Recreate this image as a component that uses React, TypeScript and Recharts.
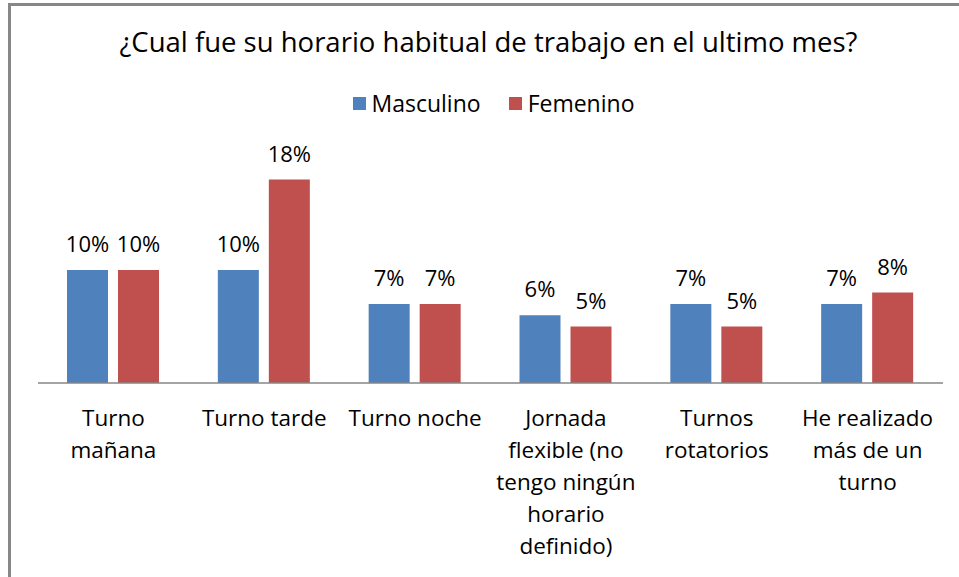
import React from "react";
import { BarChart, Bar, XAxis, YAxis, Legend, LabelList } from "recharts";

const categories = [
  "Turno mañana",
  "Turno tarde",
  "Turno noche",
  "Jornada flexible (no tengo ningún horario definido)",
  "Turnos rotatorios",
  "He realizado más de un turno",
];
const tickLines: string[][] = [
  ["Turno", "mañana"],
  ["Turno tarde"],
  ["Turno noche"],
  ["Jornada", "flexible (no", "tengo ningún", "horario", "definido)"],
  ["Turnos", "rotatorios"],
  ["He realizado", "más de un", "turno"],
];
const masculino = [10, 10, 7, 6, 7, 7];
const femenino = [10, 18, 7, 5, 5, 8];
const seriesNames = ["Masculino", "Femenino"];
const colors = ["#4F81BD", "#C0504D"];
const title = "¿Cual fue su horario habitual de trabajo en el ultimo mes?";

const data = categories.map((c, i) => ({
  name: c,
  idx: i,
  masculino: masculino[i],
  femenino: femenino[i],
}));

const FONT = '"Open Sans", sans-serif';
const LEGEND_H = 24;

const Tick = (props: any) => {
  const { x, y, payload } = props;
  const lines = tickLines[payload.index] || [String(payload.value)];
  return (
    <text x={x} y={y} textAnchor="middle" fontFamily={FONT} fontSize={22.5} fill="#000">
      {lines.map((l, i) => (
        <tspan key={i} x={x} y={y + 43 + i * 32}>
          {l}
        </tspan>
      ))}
    </text>
  );
};

const LegendContent = () => (
  <div
    style={{
      height: LEGEND_H,
      display: "flex",
      justifyContent: "center",
      alignItems: "center",
      fontFamily: FONT,
      fontSize: 23,
      color: "#000",
    }}
  >
    {seriesNames.map((n, i) => (
      <div key={n} style={{ display: "flex", alignItems: "center", marginRight: i === 0 ? 28 : 0 }}>
        <span style={{ width: 13, height: 13, background: colors[i], display: "inline-block", marginRight: 6 }} />
        <span>{n}</span>
      </div>
    ))}
  </div>
);

export default function App() {
  return (
    <div style={{ position: "absolute", left: 0, top: 0, width: 959, height: 577, background: "#fff" }}>
      <div
        style={{
          position: "absolute",
          left: 8,
          top: 3,
          width: 951,
          height: 574,
          borderTop: "3px solid #878787",
          borderLeft: "3px solid #878787",
          boxSizing: "border-box",
        }}
      />
      <div
        style={{
          position: "absolute",
          left: 9,
          top: 23,
          width: 959,
          textAlign: "center",
          fontFamily: FONT,
          fontSize: 27.5,
          lineHeight: "38px",
          color: "#000",
        }}
      >
        {title}
      </div>
      <BarChart
        width={959}
        height={577}
        data={data}
        margin={{ top: 157 - LEGEND_H, right: 16, left: 38, bottom: 0 }}
        barGap={10}
        barSize={41}
      >
        <YAxis hide domain={[0, 20]} />
        <XAxis
          dataKey="name"
          height={194}
          tickSize={0}
          tickMargin={0}
          interval={0}
          tick={<Tick />}
          axisLine={{ stroke: "#868686", strokeWidth: 1.5 }}
        />
        <Legend
          verticalAlign="top"
          content={<LegendContent />}
          wrapperStyle={{ top: 91, left: 14, width: 959, height: LEGEND_H }}
        />
        <Bar dataKey="masculino" name="Masculino" fill={colors[0]} isAnimationActive={false}>
          <LabelList
            dataKey="masculino"
            position="top"
            offset={18}
            formatter={(v: any) => `${v}%`}
            style={{ fontFamily: FONT, fontSize: 22, fill: "#000" }}
          />
        </Bar>
        <Bar dataKey="femenino" name="Femenino" fill={colors[1]} isAnimationActive={false}>
          <LabelList
            dataKey="femenino"
            position="top"
            offset={18}
            formatter={(v: any) => `${v}%`}
            style={{ fontFamily: FONT, fontSize: 22, fill: "#000" }}
          />
        </Bar>
      </BarChart>
    </div>
  );
}
